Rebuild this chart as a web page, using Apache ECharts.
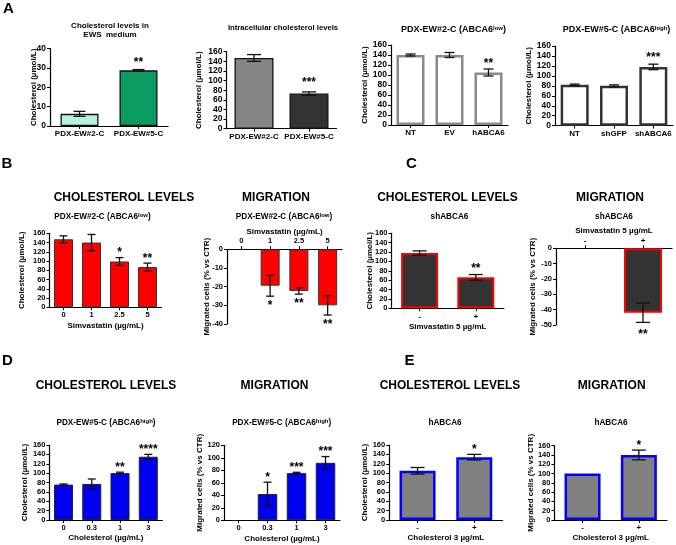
<!DOCTYPE html>
<html><head><meta charset="utf-8">
<script src="https://cdn.jsdelivr.net/npm/echarts@6/dist/echarts.min.js"></script>
<style>html,body{margin:0;padding:0;background:#fff}#c{width:676px;height:545px}</style>
</head><body><div id="c"></div>
<script>
const FONT = '"Liberation Sans", Arial, Helvetica, sans-serif';

// ---------- DATA ----------
// A1: Cholesterol levels in EWS medium
const a1Categories = ['PDX-EW#2-C', 'PDX-EW#5-C'];
const a1Values = [6.3, 28.8];
const a1Errors = [1.3, 0.4];
const a1Stars = ['', '**'];
const a1Axis = [0, 40, 10];
// A2: Intracellular cholesterol levels
const a2Categories = ['PDX-EW#2-C', 'PDX-EW#5-C'];
const a2Values = [147, 73];
const a2Errors = [7, 3.5];
const a2Stars = ['', '***'];
const a2Axis = [0, 160, 20];
// A3: PDX-EW#2-C (ABCA6 low)
const a3Categories = ['NT', 'EV', 'hABCA6'];
const a3Values = [140, 140, 105];
const a3Errors = [2, 5, 7];
const a3Stars = ['', '', '**'];
const a3Axis = [0, 160, 20];
// A4: PDX-EW#5-C (ABCA6 high)
const a4Categories = ['NT', 'shGFP', 'shABCA6'];
const a4Values = [82, 80, 118];
const a4Errors = [1.5, 2, 5.5];
const a4Stars = ['', '', '***'];
const a4Axis = [0, 160, 20];
// B1: cholesterol levels vs simvastatin
const b1Categories = ['0', '1', '2.5', '5'];
const b1Values = [147, 140, 99, 87];
const b1Errors = [7.5, 17.5, 8.5, 8.5];
const b1Stars = ['', '', '*', '**'];
const b1Axis = [0, 160, 20];
// B2: migration vs simvastatin
const b2Categories = ['0', '1', '2.5', '5'];
const b2Values = [0, -19.5, -22.3, -30];
const b2Errors = [0, 5.6, 1.7, 5.2];
const b2Stars = ['', '*', '**', '**'];
const b2Axis = [-40, 0, 10];
// C1: shABCA6 cholesterol
const c1Categories = ['-', '+'];
const c1Values = [118, 66];
const c1Errors = [4.5, 6];
const c1Stars = ['', '**'];
const c1Axis = [0, 160, 20];
// C2: shABCA6 migration
const c2Categories = ['-', '+'];
const c2Values = [0, -42];
const c2Errors = [0, 6.3];
const c2Stars = ['', '**'];
const c2Axis = [-50, 0, 10];
// D1: cholesterol levels vs cholesterol
const d1Categories = ['0', '0.3', '1', '3'];
const d1Values = [75.5, 77, 100, 135];
const d1Errors = [1.4, 10.5, 2, 5];
const d1Stars = ['', '', '**', '****'];
const d1Axis = [0, 160, 20];
// D2: migration vs cholesterol
const d2Categories = ['0', '0.3', '1', '3'];
const d2Values = [0, 42, 75.5, 92];
const d2Errors = [0, 19, 1.3, 10];
const d2Stars = ['', '*', '***', '***'];
const d2Axis = [0, 120, 20];
// E1: hABCA6 cholesterol
const e1Categories = ['-', '+'];
const e1Values = [105, 134];
const e1Errors = [7, 6];
const e1Stars = ['', '*'];
const e1Axis = [0, 160, 20];
// E2: hABCA6 migration
const e2Categories = ['-', '+'];
const e2Values = [100, 140];
const e2Errors = [0, 10.5];
const e2Stars = ['', '*'];
const e2Axis = [0, 160, 20];

// ---------- PANEL STYLES ----------
const CHOL = 'Cholesterol (µmol/L)';
const MIG = 'Migrated cells (% vs CTR)';
const panels = [
  {cats:a1Categories, vals:a1Values, errs:a1Errors, stars:a1Stars, axis:a1Axis,
   grid:[50,48.7,118,77.3], colors:['#b4f3da','#0b9b62'], border:'#111', bw:1.3, barWidth:38, cap:6,
   yName:CHOL, yNameGap:12.5, tickFont:8.5, catFont:8, starGap:10.5},
  {cats:a2Categories, vals:a2Values, errs:a2Errors, stars:a2Stars, axis:a2Axis,
   grid:[226.5,51.7,110,77], colors:['#858585','#333333'], border:'#111', bw:1.3, barWidth:39, cap:7,
   yName:CHOL, yNameGap:24, tickFont:8.5, catFont:8, starGap:13},
  {cats:a3Categories, vals:a3Values, errs:a3Errors, stars:a3Stars, axis:a3Axis,
   grid:[391,45,117,80], colors:['#ffffff'], border:'#8a8a8a', bw:2.5, barWidth:28, cap:5,
   yName:CHOL, yNameGap:22.5, tickFont:8.5, catFont:8, starGap:8.5},
  {cats:a4Categories, vals:a4Values, errs:a4Errors, stars:a4Stars, axis:a4Axis,
   grid:[555,46,118,79.7], colors:['#ffffff'], border:'#333333', bw:2.5, barWidth:28, cap:5,
   yName:CHOL, yNameGap:22, tickFont:8.5, catFont:8, starGap:10},
  {cats:b1Categories, vals:b1Values, errs:b1Errors, stars:b1Stars, axis:b1Axis,
   grid:[49.5,233.3,112,74], colors:['#ff0000'], border:'#333', bw:1, barWidth:19, cap:4,
   yName:CHOL, yNameGap:24, tickFont:7.5, catFont:7.5, starGap:8,
   xName:'Simvastatin (µg/mL)', xNameGap:14},
  {cats:b2Categories, vals:b2Values, errs:b2Errors, stars:b2Stars, axis:b2Axis,
   grid:[227,249.3,115,74.7], colors:['#ff0000'], border:'#333', bw:1, barWidth:19, cap:4,
   yName:MIG, yNameGap:16.5, tickFont:7.5, catFont:7.5, starGap:6, xTop:true,
   xName:'Simvastatin (µg/mL)', xNameGap:14},
  {cats:c1Categories, vals:c1Values, errs:c1Errors, stars:c1Stars, axis:c1Axis,
   grid:[391.5,233.3,112.4,75], colors:['#333333'], border:'#ff0000', bw:2, barWidth:37, cap:7,
   yName:CHOL, yNameGap:18, tickFont:7.5, catFont:8, starGap:9,
   xName:'Simvastatin 5 µg/mL', xNameGap:14},
  {cats:c2Categories, vals:c2Values, errs:c2Errors, stars:c2Stars, axis:c2Axis,
   grid:[556,248.3,116,76.7], colors:['#333333'], border:'#ff0000', bw:2, barWidth:38, cap:7,
   yName:MIG, yNameGap:19, tickFont:7.5, catFont:8, starGap:9, xTop:true,
   xName:'Simvastatin 5 µg/mL', xNameGap:14},
  {cats:d1Categories, vals:d1Values, errs:d1Errors, stars:d1Stars, axis:d1Axis,
   grid:[49.4,445,113,75], colors:['#0000f0'], border:'#222', bw:1, barWidth:19, cap:4,
   yName:CHOL, yNameGap:21, tickFont:7.5, catFont:7.5, starGap:8,
   xName:'Cholesterol (µg/mL)', xNameGap:14},
  {cats:d2Categories, vals:d2Values, errs:d2Errors, stars:d2Stars, axis:d2Axis,
   grid:[224,445.3,116,75], colors:['#0000f0'], border:'#222', bw:1, barWidth:19.5, cap:4,
   yName:MIG, yNameGap:20, tickFont:7.5, catFont:7.5, starGap:8,
   xName:'Cholesterol (µg/mL)', xNameGap:14},
  {cats:e1Categories, vals:e1Values, errs:e1Errors, stars:e1Stars, axis:e1Axis,
   grid:[389.2,445,113.4,75], colors:['#808080'], border:'#0000ff', bw:2.5, barWidth:36, cap:7,
   yName:CHOL, yNameGap:20, tickFont:7.5, catFont:8, starGap:8.5,
   xName:'Cholesterol 3 µg/mL', xNameGap:14},
  {cats:e2Categories, vals:e2Values, errs:e2Errors, stars:e2Stars, axis:e2Axis,
   grid:[554.4,445.7,112.6,74.3], colors:['#808080'], border:'#0000ff', bw:2.5, barWidth:36, cap:7,
   yName:MIG, yNameGap:20, tickFont:7.5, catFont:8, starGap:8,
   xName:'Cholesterol 3 µg/mL', xNameGap:14}
];

const grids = [], xAxes = [], yAxes = [], series = [];
const txt = {fontFamily: FONT, fontWeight: 'bold', color: '#000'};
panels.forEach((p, k) => {
  grids.push({left:p.grid[0], top:p.grid[1], width:p.grid[2], height:p.grid[3], outerBoundsMode:'none', containLabel:false});
  xAxes.push({
    gridIndex:k, type:'category', data:p.cats, position:p.xTop ? 'top' : 'bottom',
    axisLine:{show:true, onZero:false, lineStyle:{color:'#000', width:1.2}},
    axisTick:{show:true, alignWithLabel:true, length:3, lineStyle:{color:'#000', width:1}},
    axisLabel:Object.assign({interval:0, fontSize:p.catFont, margin:4}, txt),
    splitLine:{show:false},
    name:p.xName || '', nameLocation:'middle', nameGap:p.xNameGap || 0, nameMoveOverlap:false,
    nameTextStyle:Object.assign({fontSize:8}, txt)
  });
  yAxes.push({
    gridIndex:k, type:'value', min:p.axis[0], max:p.axis[1], interval:p.axis[2],
    axisLine:{show:true, lineStyle:{color:'#000', width:1.2}},
    axisTick:{show:true, length:3, lineStyle:{color:'#000', width:1}},
    axisLabel:Object.assign({fontSize:p.tickFont, margin:4}, txt),
    splitLine:{show:false},
    name:p.yName, nameLocation:'middle', nameGap:p.yNameGap, nameMoveOverlap:false,
    nameTextStyle:Object.assign({fontSize:8}, txt)
  });
  series.push({
    type:'bar', xAxisIndex:k, yAxisIndex:k, barWidth:p.barWidth, animation:false,
    data:p.vals.map((v, i) => ({
      value:v,
      itemStyle:{color:p.colors[i % p.colors.length], borderColor:p.border, borderWidth: v === 0 ? 0 : p.bw}
    }))
  });
  series.push({
    type:'custom', xAxisIndex:k, yAxisIndex:k, animation:false, clip:false, z:5,
    data:p.vals.map((v, i) => [i, v, p.errs[i]]),
    renderItem:(params, api) => {
      const i = api.value(0), v = api.value(1), e = api.value(2);
      const ch = [];
      const st = {stroke:'#111', lineWidth:1.3};
      const hi = api.coord([i, v + e]), lo = api.coord([i, v - e]);
      if (e > 0) {
        ch.push({type:'line', shape:{x1:hi[0], y1:hi[1], x2:lo[0], y2:lo[1]}, style:st});
        ch.push({type:'line', shape:{x1:hi[0]-p.cap, y1:hi[1], x2:hi[0]+p.cap, y2:hi[1]}, style:st});
        ch.push({type:'line', shape:{x1:lo[0]-p.cap, y1:lo[1], x2:lo[0]+p.cap, y2:lo[1]}, style:st});
      }
      const s = p.stars[params.dataIndex];
      if (s) {
        const neg = v < 0;
        ch.push({type:'text', style:{
          text:s, x:hi[0], y: neg ? lo[1] + p.starGap + 3.5 : hi[1] - p.starGap + 3.5,
          align:'center', verticalAlign:'middle',
          fontSize:12, fontWeight:'bold', fontFamily:FONT, fill:'#000'
        }});
      }
      return {type:'group', children:ch};
    }
  });
});

// ---------- TEXTS ----------
function T(x, y, text, size, extra) {
  return {type:'text', x:x, y:y, style:Object.assign({
    text:text, align:'center', verticalAlign:'middle', fontFamily:FONT, fontWeight:'bold',
    fontSize:size, fill:'#000',
    rich:{sup:{fontSize:Math.round(size*0.7), fontFamily:FONT, fontWeight:'bold', verticalAlign:'top', padding:[0,0,3,0]}}
  }, extra || {})};
}
const LOW = 'PDX-EW#2-C (ABCA6{sup|low})';
const HIGH = 'PDX-EW#5-C (ABCA6{sup|high})';
const graphics = [
  T(8.5, 9, 'A', 15), T(7, 164, 'B', 15), T(411.5, 163.5, 'C', 15), T(7.5, 361, 'D', 15), T(409.5, 361, 'E', 15),
  T(110, 30.5, 'Cholesterol levels in\nEWS  medium', 8, {lineHeight:9.5}),
  T(283, 27.7, 'Intracellular cholesterol levels', 7.7),
  T(453.5, 30, LOW, 9), T(616.5, 30, HIGH, 9),
  T(124, 198, 'CHOLESTEROL LEVELS', 12), T(102.5, 217, LOW, 8.2),
  T(276, 198, 'MIGRATION', 12), T(284, 217, LOW, 8.2),
  T(447.5, 198, 'CHOLESTEROL LEVELS', 12), T(449.5, 217, 'shABCA6', 8.2),
  T(610, 198, 'MIGRATION', 12), T(614, 217, 'shABCA6', 8.2),
  T(106, 385.7, 'CHOLESTEROL LEVELS', 12), T(106, 423, HIGH, 8.2),
  T(274.5, 385.7, 'MIGRATION', 12), T(281.7, 423, HIGH, 8.2),
  T(450, 385.7, 'CHOLESTEROL LEVELS', 12), T(445, 423, 'hABCA6', 8.2),
  T(611.7, 385.7, 'MIGRATION', 12), T(611, 423, 'hABCA6', 8.2)
];

const chart = echarts.init(document.getElementById('c'), null, {renderer:'canvas'});
chart.setOption({
  animation:false,
  backgroundColor:'#ffffff',
  grid:grids, xAxis:xAxes, yAxis:yAxes, series:series,
  graphic:{elements:graphics}
});
</script>
</body></html>
